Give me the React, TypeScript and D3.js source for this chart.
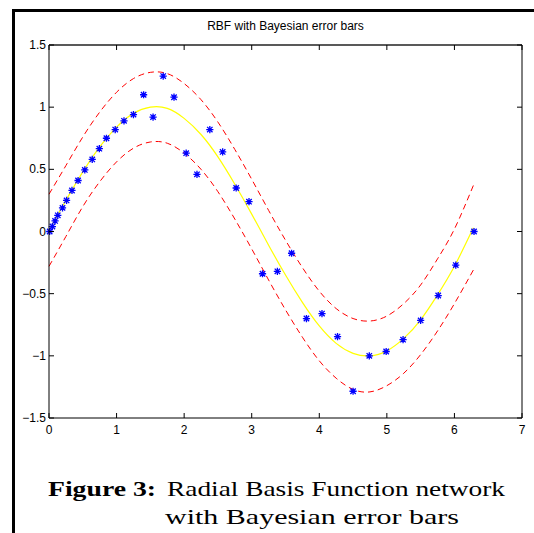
import React from "react";
import * as d3 from "d3";

// Fitted RBF mean and Bayesian error bars
const curveX = [0, 0.25, 0.5, 0.75, 1.0, 1.25, 1.5, 1.75, 2.0, 2.25, 2.5, 2.75, 3.0, 3.25, 3.5, 3.75, 4.0, 4.25, 4.5, 4.75, 5.0, 5.25, 5.5, 5.75, 6.0, 6.28];
const meanY = [0.01, 0.25, 0.48, 0.68, 0.84, 0.95, 1.0, 0.99, 0.91, 0.78, 0.6, 0.38, 0.14, -0.11, -0.35, -0.57, -0.76, -0.9, -0.98, -1.0, -0.96, -0.86, -0.71, -0.51, -0.28, 0.03];
const upperY = [0.3, 0.53, 0.76, 0.96, 1.12, 1.23, 1.28, 1.27, 1.19, 1.06, 0.88, 0.66, 0.42, 0.17, -0.07, -0.29, -0.48, -0.62, -0.7, -0.72, -0.68, -0.58, -0.43, -0.22, 0.02, 0.37];
const lowerY = [-0.28, -0.04, 0.2, 0.4, 0.56, 0.67, 0.72, 0.71, 0.63, 0.5, 0.32, 0.1, -0.14, -0.39, -0.63, -0.85, -1.04, -1.18, -1.27, -1.29, -1.24, -1.14, -0.99, -0.8, -0.58, -0.31];

// Noisy training data (blue asterisks)
const dataX = [0.01, 0.05, 0.09, 0.13, 0.2, 0.26, 0.34, 0.43, 0.53, 0.64, 0.745, 0.85, 0.98, 1.11, 1.25, 1.4, 1.54, 1.69, 1.85, 2.03, 2.19, 2.38, 2.57, 2.77, 2.96, 3.16, 3.38, 3.59, 3.81, 4.04, 4.27, 4.5, 4.74, 4.99, 5.24, 5.5, 5.76, 6.02, 6.29];
const dataY = [0.0, 0.04, 0.085, 0.13, 0.19, 0.25, 0.33, 0.41, 0.495, 0.58, 0.666, 0.75, 0.82, 0.89, 0.94, 1.1, 0.92, 1.25, 1.08, 0.63, 0.46, 0.82, 0.64, 0.35, 0.24, -0.34, -0.32, -0.175, -0.7, -0.66, -0.845, -1.285, -1.0, -0.965, -0.87, -0.715, -0.515, -0.27, 0.0];

const xTicks = [0, 1, 2, 3, 4, 5, 6, 7];
const yTicks = [1.5, 1, 0.5, 0, -0.5, -1, -1.5];
const titleText = "RBF with Bayesian error bars";
const captionBold = "Figure 3:";
const captionLine1 = "Radial Basis Function network";
const captionLine2 = "with Bayesian error bars";

const W = 534;
const H = 533;
const L = 49, R = 522, T = 45, B = 418;

const fmt = (v: number) => (v < 0 ? "\u2212" + String(-v) : String(v));

export default function App() {
  const x = d3.scaleLinear().domain([0, 7]).range([L, R]);
  const y = d3.scaleLinear().domain([-1.5, 1.5]).range([B, T]);
  const line = d3
    .line<number>()
    .x((_, i) => x(curveX[i]))
    .curve(d3.curveNatural);
  const meanPath = line.y((v) => y(v))(meanY) || "";
  const upPath = line.y((v) => y(v))(upperY) || "";
  const loPath = line.y((v) => y(v))(lowerY) || "";
  const tick = 5;
  const s = 3.6;
  const d2 = s * 0.75;
  const font = "'Liberation Sans', Arial, Helvetica, sans-serif";

  return (
    <svg
      width={W}
      height={H}
      style={{ position: "absolute", left: 0, top: 0, background: "#fff" }}
    >
      <rect x={0} y={0} width={W} height={H} fill="#fff" />
      {/* page frame */}
      <line x1={12} y1={10.5} x2={W} y2={10.5} stroke="#000" strokeWidth={3} />
      <line x1={13.5} y1={9} x2={13.5} y2={H} stroke="#000" strokeWidth={3} />

      {/* title */}
      <text x={(L + R) / 2} y={30} textAnchor="middle" fontFamily={font} fontSize={12} fill="#000">
        {titleText}
      </text>

      {/* curves */}
      <path d={upPath} fill="none" stroke="#ff0000" strokeWidth={1} strokeDasharray="6,4" />
      <path d={loPath} fill="none" stroke="#ff0000" strokeWidth={1} strokeDasharray="6,4" />
      <path d={meanPath} fill="none" stroke="#ffff00" strokeWidth={1.2} />

      {/* data asterisks */}
      {dataX.map((dx, i) => {
        const cx = x(dx);
        const cy = y(dataY[i]);
        return (
          <path
            key={i}
            d={`M${cx - s},${cy}H${cx + s}M${cx},${cy - s}V${cy + s}M${cx - d2},${cy - d2}L${cx + d2},${cy + d2}M${cx - d2},${cy + d2}L${cx + d2},${cy - d2}`}
            stroke="#0000ff"
            strokeWidth={1.3}
            fill="none"
          />
        );
      })}

      {/* axes box */}
      <line x1={L} y1={T} x2={R} y2={T} stroke="#222" strokeWidth={1.6} />
      <line x1={R} y1={T} x2={R} y2={B} stroke="#000" strokeWidth={1} />
      <line x1={L} y1={B} x2={R} y2={B} stroke="#000" strokeWidth={1} />
      <line x1={L} y1={T} x2={L} y2={B} stroke="#000" strokeWidth={1} />

      {xTicks.map((t) => (
        <g key={"x" + t}>
          <line x1={x(t)} x2={x(t)} y1={B} y2={B - tick} stroke="#000" />
          <line x1={x(t)} x2={x(t)} y1={T} y2={T + tick} stroke="#000" />
          <text x={x(t)} y={434} textAnchor="middle" fontFamily={font} fontSize={12} fill="#000">
            {fmt(t)}
          </text>
        </g>
      ))}
      {yTicks.map((t) => (
        <g key={"y" + t}>
          <line x1={L} x2={L + tick} y1={y(t)} y2={y(t)} stroke="#000" />
          <line x1={R} x2={R - tick} y1={y(t)} y2={y(t)} stroke="#000" />
          <text x={46} y={y(t) + 4} textAnchor="end" fontFamily={font} fontSize={12} fill="#000">
            {fmt(t)}
          </text>
        </g>
      ))}

      {/* caption */}
      <text
        x={48}
        y={496}
        fontFamily="'Liberation Serif', 'DejaVu Serif', serif"
        fontWeight="bold"
        fontSize={22}
        textLength={108}
        lengthAdjust="spacingAndGlyphs"
        fill="#000"
      >
        {captionBold}
      </text>
      <text
        x={167}
        y={496}
        fontFamily="'Liberation Serif', 'DejaVu Serif', serif"
        fontSize={22}
        textLength={338}
        lengthAdjust="spacingAndGlyphs"
        fill="#000"
      >
        {captionLine1}
      </text>
      <text
        x={165}
        y={524}
        fontFamily="'Liberation Serif', 'DejaVu Serif', serif"
        fontSize={22}
        textLength={294}
        lengthAdjust="spacingAndGlyphs"
        fill="#000"
      >
        {captionLine2}
      </text>
    </svg>
  );
}
